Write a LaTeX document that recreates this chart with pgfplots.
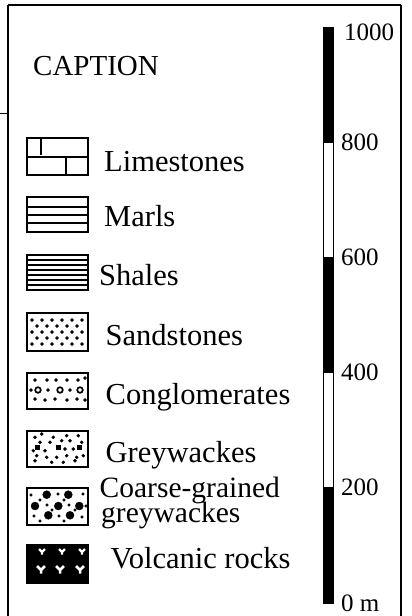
\documentclass[border=0pt]{standalone}
\usepackage{pgfplots}
\pgfplotsset{compat=1.18}
\usepackage{fontspec}
\setmainfont{Liberation Serif}
\pgfdeclareplotmark{volc}{%
 \pgfpathmoveto{\pgfqpoint{-\pgfplotmarksize}{\pgfplotmarksize}}%
 \pgfpathlineto{\pgfqpoint{0pt}{0pt}}%
 \pgfpathlineto{\pgfqpoint{\pgfplotmarksize}{\pgfplotmarksize}}%
 \pgfpathmoveto{\pgfqpoint{0pt}{0pt}}%
 \pgfpathlineto{\pgfqpoint{0pt}{-0.9\pgfplotmarksize}}%
 \pgfusepathqstroke}
\newcommand{\txt}{\fontsize{30.5}{21}\selectfont}
\begin{document}
\begin{tikzpicture}
\useasboundingbox (0,0) rectangle (412pt,616pt);
\begin{axis}[at={(0pt,0pt)}, anchor=south west, scale only axis,
  width=412pt, height=616pt, xmin=0, xmax=412, ymin=0, ymax=616,
  y dir=reverse, hide axis, clip=false]
% frame
\addplot[line width=2pt] coordinates {(8,616) (8,5)};
\addplot[line width=1.1pt] coordinates {(8,5) (401,5)};
\addplot[line width=1.7pt] coordinates {(401,5) (401,616)};
\addplot[line width=0.9pt] coordinates {(0,113) (8,113)};
% Limestones
\addplot[draw=black, line width=2.6pt, fill=white] coordinates {(27,138) (88,138) (88,175) (27,175)} --cycle;
\addplot[line width=1.8pt] coordinates {(27,157) (88,157)};
\addplot[line width=1.8pt] coordinates {(41,138) (41,155)};
\addplot[line width=1.8pt] coordinates {(66,157) (66,175)};
% Marls
\addplot[draw=black, line width=2.6pt, fill=white] coordinates {(27,197) (88,197) (88,232) (27,232)} --cycle;
\addplot[line width=1.8pt] coordinates {(27,206.7) (88,206.7)};
\addplot[line width=1.8pt] coordinates {(27,215) (88,215)};
\addplot[line width=1.8pt] coordinates {(27,223.3) (88,223.3)};
% Shales
\addplot[draw=black, line width=2.6pt, fill=white] coordinates {(27,255) (88,255) (88,290) (27,290)} --cycle;
\addplot[line width=2pt] coordinates {(27,260) (88,260)};
\addplot[line width=2pt] coordinates {(27,265) (88,265)};
\addplot[line width=2pt] coordinates {(27,270) (88,270)};
\addplot[line width=2pt] coordinates {(27,275) (88,275)};
\addplot[line width=2pt] coordinates {(27,280) (88,280)};
\addplot[line width=2pt] coordinates {(27,285) (88,285)};
% Sandstones
\addplot[draw=black, line width=2.6pt, fill=white] coordinates {(27,313) (88,313) (88,351) (27,351)} --cycle;
\addplot[only marks, mark=*, mark size=1.5pt, mark options={fill=black, draw=none}] coordinates {
 (32,320) (42,320) (52,320) (62,320) (72,320) (82,320)
 (37,326) (47,326) (57,326) (67,326) (77,326)
 (32,332) (42,332) (52,332) (62,332) (72,332) (82,332)
 (37,338) (47,338) (57,338) (67,338) (77,338)
 (32,344) (42,344) (52,344) (62,344) (72,344) (82,344)};
% Conglomerates
\addplot[draw=black, line width=2.6pt, fill=white] coordinates {(27,373) (88,373) (88,409) (27,409)} --cycle;
\addplot[only marks, mark=*, mark size=1.5pt, mark options={fill=black, draw=none}] coordinates {
 (35,380) (47,380) (56,380) (67,380) (78,380) (85,378)
 (31,390) (48,390) (70,390)
 (35,399) (45,400) (55,399) (67,400) (77,399) (85,400)};
\addplot[only marks, mark=o, mark size=2.8pt, mark options={draw=black, line width=1.7pt}] coordinates {
 (38,390) (60,390) (80,390)};
% Greywackes
\addplot[draw=black, line width=2.6pt, fill=white] coordinates {(27,431) (88,431) (88,467) (27,467)} --cycle;
\addplot[only marks, mark=*, mark size=1.55pt, mark options={fill=black, draw=none}] coordinates {
 (35,437.3) (53.3,437.3) (66.7,435.7) (78.3,435.7) (41.7,434)
 (40,442.3) (50,442.3) (61.7,440.7) (70,440.7) (81.7,442.3)
 (33.3,450.7) (45,450.7) (65,449) (73.3,449)
 (36.7,455.7) (46.7,457.3) (56.7,457.3) (66.7,455.7) (76.7,457.3) (83.3,455.7)
 (35,460.7) (51.7,462.3) (63.3,462.3) (75,460.7)};
\addplot[only marks, mark=square*, mark size=2.3pt, mark options={fill=black, draw=none}] coordinates {
 (37,447) (58,447) (79,447)};
% Coarse-grained greywackes
\addplot[draw=black, line width=2.6pt, fill=white] coordinates {(27,488) (88,488) (88,525) (27,525)} --cycle;
\addplot[only marks, mark=*, mark size=1.3pt, mark options={fill=black, draw=none}] coordinates {
 (31,495) (58,494) (83,494) (47,505) (69,505) (34,516) (59,516) (82,517)
 (40,500) (52,510) (64,500) (75,510) (40,521) (64,521) (86,506)};
\addplot[only marks, mark=*, mark size=4pt, mark options={fill=black, draw=none}] coordinates {
 (46.7,494.7) (68.3,494.7) (35,506) (58.3,506) (79.3,506) (48.3,515.3) (70,515.3)};
% Volcanic rocks
\addplot[draw=black, line width=2.6pt, fill=black] coordinates {(27,545) (88,545) (88,583) (27,583)} --cycle;
\addplot[only marks, mark=volc, mark size=3pt, mark options={draw=white, line width=2.2pt}] coordinates {
 (42,552) (62,552) (82,552)};
\addplot[only marks, mark=volc, mark size=4pt, mark options={draw=white, line width=2.5pt}] coordinates {
 (41,570) (60,570) (80,570)};
% texts
\node[anchor=base west, inner sep=0pt, font=\fontsize{29}{29}\selectfont] at (axis cs:33,75) {CAPTION};
\node[anchor=base west, inner sep=0pt, font=\txt] at (axis cs:104,171) {Limestones};
\node[anchor=base west, inner sep=0pt, font=\txt] at (axis cs:104,226.7) {Marls};
\node[anchor=base west, inner sep=0pt, font=\txt] at (axis cs:99,285) {Shales};
\node[anchor=base west, inner sep=0pt, font=\txt] at (axis cs:105.5,345) {Sandstones};
\node[anchor=base west, inner sep=0pt, font=\txt] at (axis cs:105.5,404) {Conglomerates};
\node[anchor=base west, inner sep=0pt, font=\txt] at (axis cs:105.5,462) {Greywackes};
\node[anchor=base west, inner sep=0pt, font=\fontsize{29.5}{21}\selectfont] at (axis cs:99.5,497) {\vtop{\baselineskip=25pt\lineskiplimit=-\maxdimen\hbox{Coarse-grained}\hbox{\hspace*{1.5pt}greywackes}}};
\node[anchor=base west, inner sep=0pt, font=\txt] at (axis cs:110.5,568.3) {Volcanic rocks};
\end{axis}
% scale bar
\begin{axis}[at={(323pt,13pt)}, anchor=south west, scale only axis,
  width=10pt, height=576pt, xmin=0, xmax=1, ymin=0, ymax=1000,
  axis line style={draw=none}, xtick=\empty,
  ytick={0,200,400,600,800}, yticklabels={0 m,200,400,600,800},
  extra y ticks={1000}, extra y tick labels={1000},
  extra y tick style={yticklabel style={yshift=-5pt, xshift=3pt}},
  yticklabel pos=right, major tick length=0pt, tick style={draw=none},
  yticklabel style={anchor=west, inner sep=0pt, xshift=8pt, font=\fontsize{25}{25}\selectfont},
  clip=false]
\addplot[draw=black, line width=0.8pt, fill=black] coordinates {(0,0) (1,0) (1,200) (0,200)} --cycle;
\addplot[draw=black, line width=0.8pt, fill=white] coordinates {(0,200) (1,200) (1,400) (0,400)} --cycle;
\addplot[draw=black, line width=0.8pt, fill=black] coordinates {(0,400) (1,400) (1,600) (0,600)} --cycle;
\addplot[draw=black, line width=0.8pt, fill=white] coordinates {(0,600) (1,600) (1,800) (0,800)} --cycle;
\addplot[draw=black, line width=0.8pt, fill=black] coordinates {(0,800) (1,800) (1,1000) (0,1000)} --cycle;
\end{axis}
\end{tikzpicture}
\end{document}
